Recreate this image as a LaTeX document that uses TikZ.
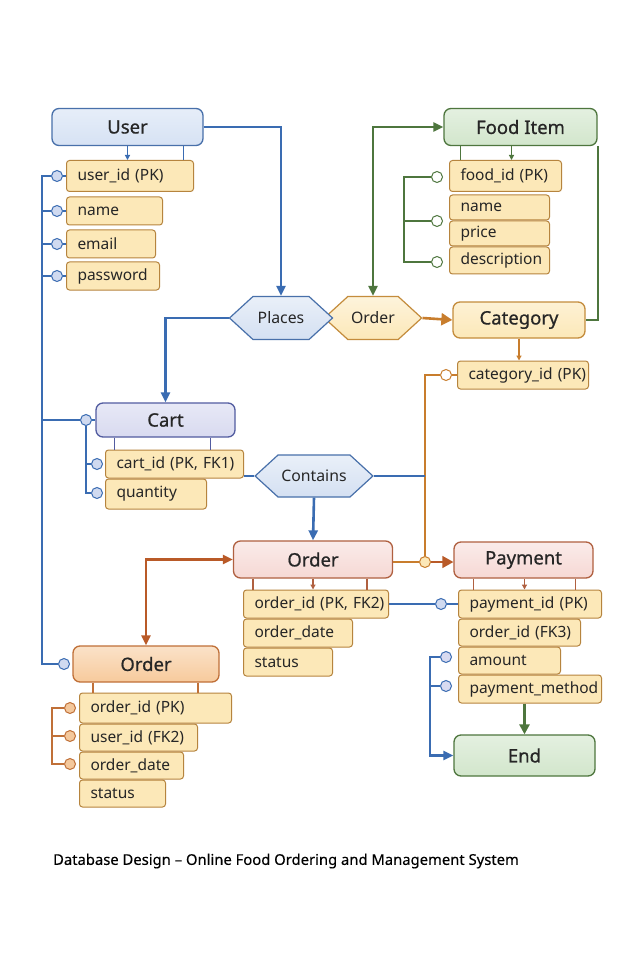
\documentclass[tikz,border=0pt]{standalone}
\usepackage{fontspec}
\setmainfont{Noto Sans}
\newfontfamily\headfont[FakeBold=0.7]{Noto Sans}
\newfontfamily\captfont[FakeBold=0.3]{Noto Sans}
\usetikzlibrary{arrows.meta,positioning,shapes.symbols}

\definecolor{lnblue}{RGB}{58,108,178}
\definecolor{lngreen}{RGB}{78,118,62}
\definecolor{lnorange}{RGB}{200,125,45}
\definecolor{lnbrown}{RGB}{185,90,40}
\definecolor{attrfill}{RGB}{252,232,184}
\definecolor{attrline}{RGB}{182,132,62}
\definecolor{userfill}{RGB}{214,226,244}
\definecolor{userline}{RGB}{72,112,170}
\definecolor{foodfill}{RGB}{210,230,204}
\definecolor{cartfill}{RGB}{216,218,240}
\definecolor{cartline}{RGB}{82,92,160}
\definecolor{catline}{RGB}{196,140,60}
\definecolor{ordfill}{RGB}{246,216,212}
\definecolor{ordline}{RGB}{176,96,64}
\definecolor{oldfill}{RGB}{247,202,156}
\definecolor{oldline}{RGB}{192,112,56}
\definecolor{relblue}{RGB}{212,224,242}
\definecolor{jointblue}{RGB}{208,218,240}
\definecolor{jointorange}{RGB}{244,200,156}

\begin{document}
\begin{tikzpicture}[x=1pt, y=-1pt,
    every node/.style={font=\fontsize{15.5}{18}\selectfont, text=black!85},
    entity/.style={draw, rounded corners=7pt, line width=1.3pt, minimum height=37pt, font=\headfont\fontsize{18.5}{21}\selectfont},
    attr/.style={draw=attrline, fill=attrfill, rounded corners=3pt, line width=1pt, anchor=west, minimum height=28pt, inner xsep=11pt, text width=#1},
    rel/.style={draw, signal, signal to=west and east, signal pointer angle=85, line width=1.2pt, minimum height=43pt, font=\fontsize{15.8}{18}\selectfont},
    joint/.style={circle, draw, line width=1pt, minimum size=11pt, inner sep=0pt},
    bline/.style={draw=lnblue, line width=1.8pt},
    barrow/.style={draw=lnblue, line width=2.2pt, -{Triangle[length=10pt,width=9pt]}},
    gline/.style={draw=lngreen, line width=2pt},
    garrow/.style={draw=lngreen, line width=2.2pt, {Triangle[length=10pt,width=9pt]}-{Triangle[length=10pt,width=9pt]}},
    oline/.style={draw=lnorange, line width=1.8pt},
    brarrow/.style={draw=lnbrown, line width=2.2pt, {Triangle[length=10pt,width=9pt]}-{Triangle[length=10pt,width=9pt]}},
    tick/.style={line width=1.4pt},
    tickarrow/.style={line width=1.4pt, -{Triangle[length=5pt,width=5pt]}}
]
\useasboundingbox[fill=white] (0,0) rectangle (626,957);

% entities
\node[entity, draw=userline, top color=userfill!60, bottom color=userfill, minimum width=151pt] (user) at (127.5,127) {User};
\node[entity, draw=lngreen, top color=foodfill!60, bottom color=foodfill, minimum width=153pt] (food) at (520.5,127) {Food~Item};
\node[entity, draw=catline, top color=attrfill!60, bottom color=attrfill, minimum width=132pt, minimum height=36pt] (category) at (519,320) {Category};
\node[entity, draw=cartline, top color=cartfill!60, bottom color=cartfill, minimum width=139pt, minimum height=34pt] (cart) at (165.5,420) {Cart};
\node[entity, draw=ordline, top color=ordfill!50, bottom color=ordfill, minimum width=159pt] (ordmid) at (313,559.5) {Order};
\node[entity, draw=ordline, top color=ordfill!50, bottom color=ordfill, minimum width=139pt, minimum height=36pt] (payment) at (523.5,560) {Payment};
\node[entity, draw=oldline, top color=oldfill!55, bottom color=oldfill, minimum width=146pt, minimum height=36pt] (ordlft) at (146,664) {Order};
\node[entity, draw=lngreen, top color=foodfill!60, bottom color=foodfill, minimum width=141pt, minimum height=41pt] (end) at (524.5,755.5) {End};

% relationships
\node[rel, draw=catline, top color=attrfill!50, bottom color=attrfill, minimum width=97pt] (ordrel) at (373,318) {Order};
\node[rel, draw=userline, top color=relblue!50, bottom color=relblue, minimum width=103pt] (places) at (281,318) {Places};
\node[rel, draw=userline, top color=relblue!50, bottom color=relblue, minimum width=108pt, minimum height=42pt] (contains) at (314,476) {Contains};

% attributes
\node[attr=105pt, minimum height=31pt] (uid) at (66,176) {user\_id~(PK)};
\node[attr=74pt] (uname) at (66,211) {name};
\node[attr=67pt] (uemail) at (66,244) {email};
\node[attr=71pt] (upass) at (66,276) {password};

\node[attr=90pt, minimum height=31pt] (fid) at (449,176) {food\_id~(PK)};
\node[attr=78pt, minimum height=25pt] (fname) at (449,207.5) {name};
\node[attr=78pt, minimum height=25pt, below=0pt of fname.south west, anchor=north west] (fprice) {price};
\node[attr=78pt, minimum height=27pt, below=0pt of fprice.south west, anchor=north west] (fdesc) {description};

\node[attr=109pt] (catid) at (457,375) {category\_id~(PK)};

\node[attr=116pt] (cid) at (105,464) {cart\_id~(PK,~FK1)};
\node[attr=79pt, minimum height=30pt, below=0pt of cid.south west, anchor=north west] (cqty) {quantity};

\node[attr=123pt] (oid) at (243,604) {order\_id~(PK,~FK2)};
\node[attr=87pt, below=0pt of oid.south west, anchor=north west] (odate) {order\_date};
\node[attr=67pt, below=0pt of odate.south west, anchor=north west] (ostat) {status};

\node[attr=121pt] (pid) at (458,604) {payment\_id~(PK)};
\node[attr=100pt, minimum height=27pt, below=0pt of pid.south west, anchor=north west] (pord) {order\_id~(FK3)};
\node[attr=80pt, minimum height=27pt, below=0pt of pord.south west, anchor=north west] (pamt) {amount};
\node[attr=121pt, below=0pt of pamt.south west, anchor=north west] (pmeth) {payment\_method};

\node[attr=130pt, minimum height=30pt] (loid) at (79,708) {order\_id~(PK)};
\node[attr=96pt, minimum height=27pt, below=0pt of loid.south west, anchor=north west] (luid) {user\_id~(FK2)};
\node[attr=82pt, minimum height=27pt, below=0pt of luid.south west, anchor=north west] (ldate) {order\_date};
\node[attr=64pt, minimum height=27pt, below=0pt of ldate.south west, anchor=north west] (lstat) {status};

% joints
\node[joint, draw=lnblue, fill=jointblue] (ju1) at (57,176) {};
\node[joint, draw=lnblue, fill=jointblue] (ju2) at (57,211) {};
\node[joint, draw=lnblue, fill=jointblue] (ju3) at (57,244) {};
\node[joint, draw=lnblue, fill=jointblue] (ju4) at (57,276) {};
\node[joint, draw=lnblue, fill=jointblue] (jcart) at (86,420) {};
\node[joint, draw=lnblue, fill=jointblue] (jc1) at (97,464) {};
\node[joint, draw=lnblue, fill=jointblue] (jc2) at (97,493) {};
\node[joint, draw=lnblue, fill=jointblue] (jlft) at (64,664) {};
\node[joint, draw=lngreen, fill=white] (jf1) at (437,177) {};
\node[joint, draw=lngreen, fill=white] (jf2) at (437,221) {};
\node[joint, draw=lngreen, fill=white] (jf3) at (437,262) {};
\node[joint, draw=lnorange, fill=white] (jcat) at (446,375) {};
\node[joint, draw=lnorange, fill=attrfill] (jpay) at (425,562) {};
\node[joint, draw=lnblue, fill=jointblue] (jpid) at (441,604) {};
\node[joint, draw=lnblue, fill=cartfill] (jp1) at (446,657) {};
\node[joint, draw=lnblue, fill=cartfill] (jp2) at (446,686) {};
\node[joint, draw=oldline, fill=jointorange] (jl1) at (70,708) {};
\node[joint, draw=oldline, fill=jointorange] (jl2) at (70,736) {};
\node[joint, draw=oldline, fill=jointorange] (jl3) at (70,764) {};

\coordinate (spine) at (42,0);

\node[font=\captfont\fontsize{14.8}{17}\selectfont, text=black] (title) at (286,861) {Database Design – Online Food Ordering and Management System};

% user attributes
\draw[bline] (ju1.west) -| (spine |- jlft) -- (jlft.west);
\foreach \j in {ju2,ju3,ju4,jcart} \draw[bline] (\j.west) -- (\j.west -| spine);
\foreach \j/\a in {ju1/uid,ju2/uname,ju3/uemail,ju4/upass} \draw[bline, line width=1.2pt] (\j.east) -- (\a.west);
\draw[tickarrow, draw=lnblue] (user.south) -- (user.south |- uid.north);
\draw[tick, draw=lnblue] ([xshift=56pt]user.south) -- ([xshift=56pt]user.south |- uid.north);

% food attributes
\draw[gline] (jf1.west) -- ++(-27,0) |- (jf3.west);
\draw[gline] (jf2.west) -- ++(-27,0);
\draw[tickarrow, draw=lngreen] ([xshift=-9pt]food.south) -- ([xshift=-9pt]food.south |- fid.north);
\draw[tick, draw=lngreen] ([xshift=-60pt]food.south) -- ([xshift=-60pt]food.south |- fid.north);

% cart attributes
\draw[bline, line width=1.2pt] (jcart.east) -- (cart.west);
\draw[bline] (jcart.south) |- (jc2.west);
\draw[bline] (jc1.west) -- (jc1.west -| jcart.south);
\draw[tick, draw=cartline] ([xshift=-51pt]cart.south) -- ([xshift=-51pt]cart.south |- cid.north);
\draw[tick, draw=cartline] ([xshift=45pt]cart.south) -- ([xshift=45pt]cart.south |- cid.north);

% order attributes
\draw[tick, draw=ordline] ([xshift=-60pt]ordmid.south) -- ([xshift=-60pt]ordmid.south |- oid.north);
\draw[tickarrow, draw=ordline] (ordmid.south) -- (ordmid.south |- oid.north);
\draw[tick, draw=ordline] ([xshift=54pt]ordmid.south) -- ([xshift=54pt]ordmid.south |- oid.north);
\draw[tick, draw=oldline] ([xshift=-53pt]ordlft.south) -- ([xshift=-53pt]ordlft.south |- loid.north);
\draw[tick, draw=oldline] ([xshift=52pt]ordlft.south) -- ([xshift=52pt]ordlft.south |- loid.north);
\draw[draw=oldline, line width=1.8pt] (jl1.west) -- ++(-12,0) |- (jl3.west);
\draw[draw=oldline, line width=1.8pt] (jl2.west) -- ++(-12,0);

% payment attributes
\draw[tick, draw=ordline] ([xshift=-50pt]payment.south) -- ([xshift=-50pt]payment.south |- pid.north);
\draw[tickarrow, draw=ordline] ([xshift=1pt]payment.south) -- ([xshift=1pt]payment.south |- pid.north);
\draw[tick, draw=ordline] ([xshift=52pt]payment.south) -- ([xshift=52pt]payment.south |- pid.north);
\draw[bline] (oid.east) -- (jpid.west);
\draw[bline, line width=1.2pt] (jpid.east) -- (pid.west);

% category
\draw[tickarrow, draw=lnorange] (category.south) -- (category.south |- catid.north);
\draw[oline] (jcat.west) -| (jpay.north);
\draw[oline, line width=1.2pt] (jcat.east) -- (catid.west);

% relations
\draw[barrow] (user.east) -| (places.north);
\draw[barrow] (places.west) -| (cart.north);
\draw[garrow] (ordrel.north) |- (food.west);
\draw[draw=lnorange, line width=2.6pt, -{Triangle[length=11pt,width=12pt]}] (ordrel.east) -- (category.west);
\draw[gline] (food.south east) |- (category.east);
\draw[bline] (cid.east |- contains.west) -- (contains.west);
\draw[bline] (contains.east) -- (contains.east -| jpay.north);
\draw[barrow, line width=2.6pt] (contains.south) -- (ordmid.north);
\draw[brarrow] (ordmid.west) -| (ordlft.north);
\draw[draw=lnorange, line width=1.3pt] (ordmid.east |- jpay) -- (jpay.west);
\draw[draw=lnbrown, line width=1.3pt, -{Triangle[length=11pt,width=12pt]}] (jpay.east) -- (payment.west |- jpay);
\draw[bline] (jp2.west) -- ++(-10,0);
\draw[barrow] (jp1.west) -- ++(-10,0) |- (end.west);
\draw[gline, line width=2.6pt, -{Triangle[length=10pt,width=10pt]}] (end.north |- pmeth.south) -- (end.north);
\end{tikzpicture}
\end{document}
